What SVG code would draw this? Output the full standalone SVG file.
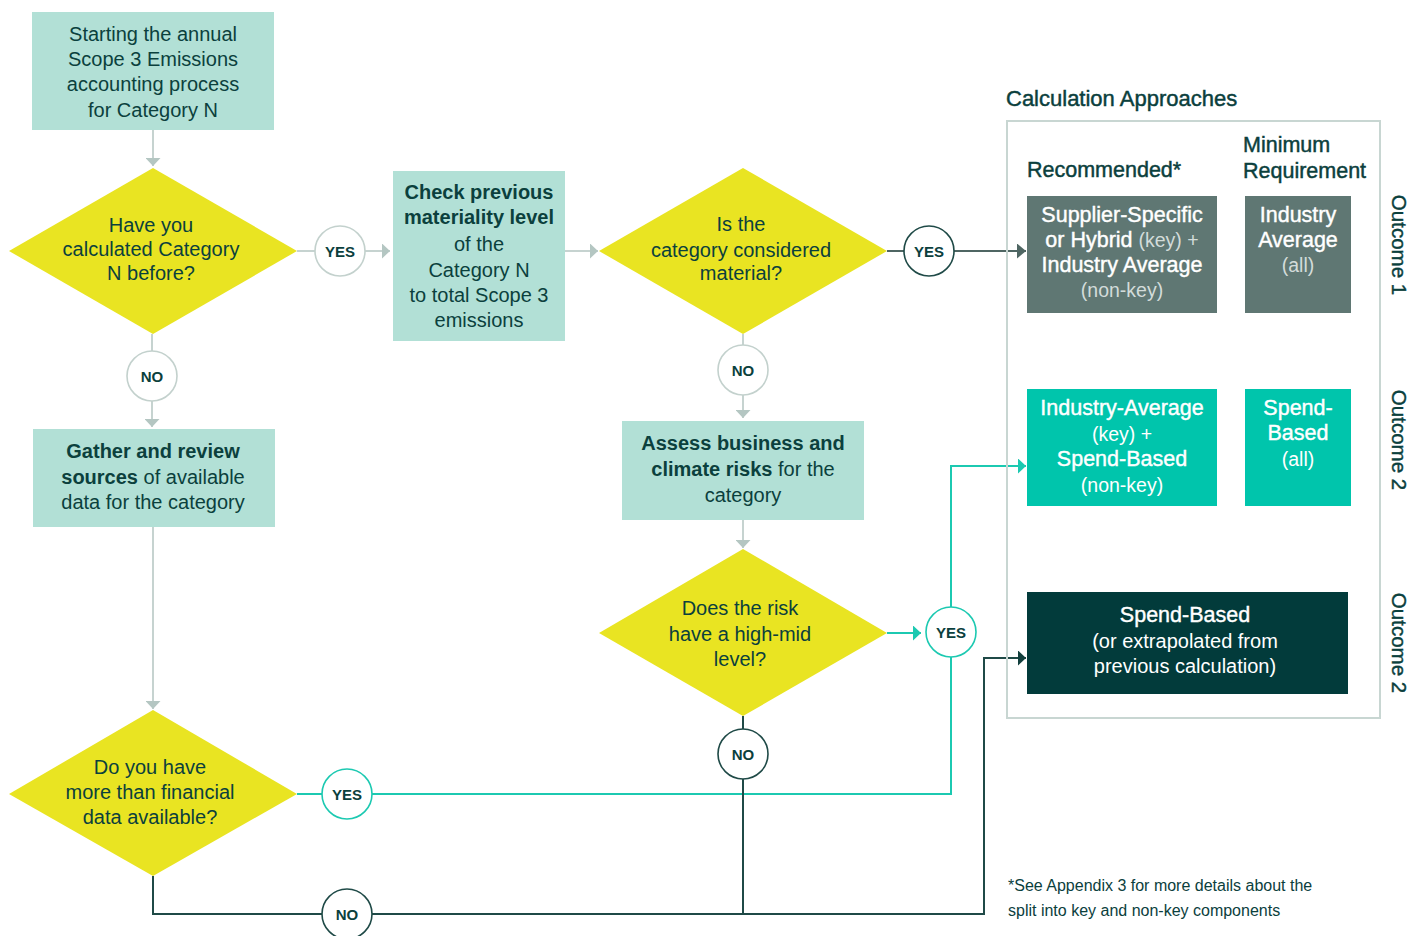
<svg xmlns="http://www.w3.org/2000/svg" width="1424" height="936" viewBox="0 0 1424 936">
<style>
text{font-family:"Liberation Sans",Arial,sans-serif;fill:#0b403d;}
.t{font-size:20px;text-anchor:middle;}
.b{font-weight:bold;}
.lbl{font-size:15px;font-weight:bold;text-anchor:middle;}
.med{font-size:21.5px;stroke:#0b403d;stroke-width:0.45;}
.out{font-size:20.5px;text-anchor:middle;stroke:#0b403d;stroke-width:0.4;}
.wm{font-size:21.5px;text-anchor:middle;fill:#ffffff;stroke:#ffffff;stroke-width:0.4;}
.wl{font-size:19.5px;text-anchor:middle;fill:#ffffff;}
.gl{fill:#d3dcda;}
.proc{fill:#b2e0d6;}
.dia{fill:#e9e422;}
.c{fill:#ffffff;stroke-width:1.6;}
.cg{stroke:#c3d1cd;}
.cd{stroke:#1f4a47;}
.ct{stroke:#1cc9b1;}
.ln{fill:none;stroke-width:2;}
.lg{stroke:#c6d3d0;}
.ldg{stroke:#4f6663;}
.lt{stroke:#1cc9b1;}
.ld{stroke:#1f4a47;}
.foot{font-size:16px;}
</style>
<defs>
<marker id="mg" viewBox="0 0 8 15" refX="8" refY="7.5" markerWidth="8" markerHeight="15" orient="auto" markerUnits="userSpaceOnUse"><path d="M0,0 L8,7.5 L0,15 z" fill="#b4c6c2"/></marker>
<marker id="mdg" viewBox="0 0 9 15" refX="9" refY="7.5" markerWidth="9" markerHeight="15" orient="auto" markerUnits="userSpaceOnUse"><path d="M0,0 L9,7.5 L0,15 z" fill="#4f6663"/></marker>
<marker id="mt" viewBox="0 0 8 15" refX="8" refY="7.5" markerWidth="8" markerHeight="15" orient="auto" markerUnits="userSpaceOnUse"><path d="M0,0 L8,7.5 L0,15 z" fill="#1cc9b1"/></marker>
<marker id="md" viewBox="0 0 8 15" refX="8" refY="7.5" markerWidth="8" markerHeight="15" orient="auto" markerUnits="userSpaceOnUse"><path d="M0,0 L8,7.5 L0,15 z" fill="#123f3d"/></marker>
</defs>

<g id="connectors">
<path class="ln lg" d="M153,130 V166" marker-end="url(#mg)"/>
<path class="ln lg" d="M297,251 H315"/>
<path class="ln lg" d="M365,251 H390" marker-end="url(#mg)"/>
<path class="ln lg" d="M565,251 H598" marker-end="url(#mg)"/>
<path class="ln lg" d="M743,334 V345"/>
<path class="ln lg" d="M743,395 V418" marker-end="url(#mg)"/>
<path class="ln lg" d="M743,520 V548" marker-end="url(#mg)"/>
<path class="ln lg" d="M152,334 V351"/>
<path class="ln lg" d="M152,401 V427" marker-end="url(#mg)"/>
<path class="ln lg" d="M153,527 V709" marker-end="url(#mg)"/>
<path class="ln ldg" d="M887,251 H904"/>
<path class="ln ldg" d="M954,251 H1026" marker-end="url(#mdg)"/>
<path class="ln lt" d="M887,633 H921" marker-end="url(#mt)"/>
<path class="ln lt" d="M951,607 V466 H1026" marker-end="url(#mt)"/>
<path class="ln lt" d="M951,657 V794 H372"/>
<path class="ln lt" d="M297,794 H322"/>
<path class="ln ld" d="M743,716 V729"/>
<path class="ln ld" d="M743,779 V914"/>
<path class="ln ld" d="M153,876 V914 H322"/>
<path class="ln ld" d="M372,914 H984 V658 H1026" marker-end="url(#md)"/>
</g>

<g id="start">
<rect class="proc" x="32" y="12" width="242" height="118"/>
<text class="t" x="153" y="41">Starting the annual</text>
<text class="t" x="153" y="66">Scope 3 Emissions</text>
<text class="t" x="153" y="91">accounting process</text>
<text class="t" x="153" y="117">for Category N</text>
</g>

<g id="q-calculated">
<polygon class="dia" points="153,168 297,251 153,334 9,251"/>
<text class="t" x="151" y="232">Have you</text>
<text class="t" x="151" y="256">calculated Category</text>
<text class="t" x="151" y="280">N before?</text>
</g>

<g id="yes1">
<circle class="c cg" cx="340" cy="251" r="25"/>
<text class="lbl" x="340" y="256.5">YES</text>
</g>

<g id="check">
<rect class="proc" x="393" y="171" width="172" height="170"/>
<text class="t b" x="479" y="199">Check previous</text>
<text class="t b" x="479" y="224">materiality level</text>
<text class="t" x="479" y="250.5">of the</text>
<text class="t" x="479" y="276.5">Category N</text>
<text class="t" x="479" y="301.5">to total Scope 3</text>
<text class="t" x="479" y="327">emissions</text>
</g>

<g id="q-material">
<polygon class="dia" points="743,168 887,251 743,334 599,251"/>
<text class="t" x="741" y="231">Is the</text>
<text class="t" x="741" y="256.5">category considered</text>
<text class="t" x="741" y="280">material?</text>
</g>

<g id="yes2">
<circle class="c cd" cx="929" cy="251" r="25"/>
<text class="lbl" x="929" y="256.5">YES</text>
</g>

<g id="no2">
<circle class="c cg" cx="743" cy="370" r="25"/>
<text class="lbl" x="743" y="375.5">NO</text>
</g>

<g id="assess">
<rect class="proc" x="622" y="421" width="242" height="99"/>
<text class="t b" x="743" y="450">Assess business and</text>
<text class="t" x="743" y="476"><tspan class="b">climate risks</tspan> for the</text>
<text class="t" x="743" y="501.5">category</text>
</g>

<g id="q-risk">
<polygon class="dia" points="743,549 887,633 743,716 599,633"/>
<text class="t" x="740" y="615">Does the risk</text>
<text class="t" x="740" y="641">have a high-mid</text>
<text class="t" x="740" y="666">level?</text>
</g>

<g id="yes3">
<circle class="c ct" cx="951" cy="632" r="25"/>
<text class="lbl" x="951" y="637.5">YES</text>
</g>

<g id="no3">
<circle class="c cd" cx="743" cy="754" r="25"/>
<text class="lbl" x="743" y="759.5">NO</text>
</g>

<g id="no1">
<circle class="c cg" cx="152" cy="376" r="25"/>
<text class="lbl" x="152" y="381.5">NO</text>
</g>

<g id="gather">
<rect class="proc" x="33" y="429" width="242" height="98"/>
<text class="t b" x="153" y="457.5">Gather and review</text>
<text class="t" x="153" y="484"><tspan class="b">sources</tspan> of available</text>
<text class="t" x="153" y="509">data for the category</text>
</g>

<g id="q-data">
<polygon class="dia" points="153,710 297,794 153,876 9,794"/>
<text class="t" x="150" y="774">Do you have</text>
<text class="t" x="150" y="799">more than financial</text>
<text class="t" x="150" y="824">data available?</text>
</g>

<g id="yes4">
<circle class="c ct" cx="347" cy="794" r="25"/>
<text class="lbl" x="347" y="799.5">YES</text>
</g>

<g id="no4">
<circle class="c cd" cx="347" cy="914" r="25"/>
<text class="lbl" x="347" y="919.5">NO</text>
</g>

<g id="calc-approaches">
<text class="med" x="1006" y="106" style="font-size:22px">Calculation Approaches</text>
<rect x="1007" y="121" width="373" height="597" fill="none" stroke="#c8d6d2" stroke-width="2"/>
<text class="med" x="1027" y="177">Recommended*</text>
<text class="med" x="1243" y="152">Minimum</text>
<text class="med" x="1243" y="178">Requirement</text>
</g>

<g id="outcome1-recommended">
<rect x="1027" y="196" width="190" height="117" fill="#5f7773"/>
<text class="wm" x="1122" y="222">Supplier-Specific</text>
<text class="wm" x="1122" y="247">or Hybrid <tspan class="gl" style="font-size:19.5px;stroke:none">(key) +</tspan></text>
<text class="wm" x="1122" y="272">Industry Average</text>
<text class="wl gl" x="1122" y="297">(non-key)</text>
</g>

<g id="outcome1-minimum">
<rect x="1245" y="196" width="106" height="117" fill="#5f7773"/>
<text class="wm" x="1298" y="222">Industry</text>
<text class="wm" x="1298" y="247">Average</text>
<text class="wl gl" x="1298" y="272">(all)</text>
</g>

<g id="outcome2-recommended">
<rect x="1027" y="389" width="190" height="117" fill="#00c5ac"/>
<text class="wm" x="1122" y="415">Industry-Average</text>
<text class="wl" x="1122" y="440.5">(key) +</text>
<text class="wm" x="1122" y="466">Spend-Based</text>
<text class="wl" x="1122" y="491.5">(non-key)</text>
</g>

<g id="outcome2-minimum">
<rect x="1245" y="389" width="106" height="117" fill="#00c5ac"/>
<text class="wm" x="1298" y="415">Spend-</text>
<text class="wm" x="1298" y="440">Based</text>
<text class="wl" x="1298" y="466">(all)</text>
</g>

<g id="outcome2-spend">
<rect x="1027" y="592" width="321" height="102" fill="#023b3b"/>
<text class="wm" x="1185" y="621.5">Spend-Based</text>
<text class="t" x="1185" y="647.5" style="fill:#ffffff">(or extrapolated from</text>
<text class="t" x="1185" y="673" style="fill:#ffffff">previous calculation)</text>
</g>

<g id="outcome-labels">
<text class="out" transform="translate(1392,245) rotate(90)">Outcome 1</text>
<text class="out" transform="translate(1392,440) rotate(90)">Outcome 2</text>
<text class="out" transform="translate(1392,643) rotate(90)">Outcome 2</text>
</g>

<g id="footnote">
<text class="foot" x="1008" y="891">*See Appendix 3 for more details about the</text>
<text class="foot" x="1008" y="916">split into key and non-key components</text>
</g>
</svg>
